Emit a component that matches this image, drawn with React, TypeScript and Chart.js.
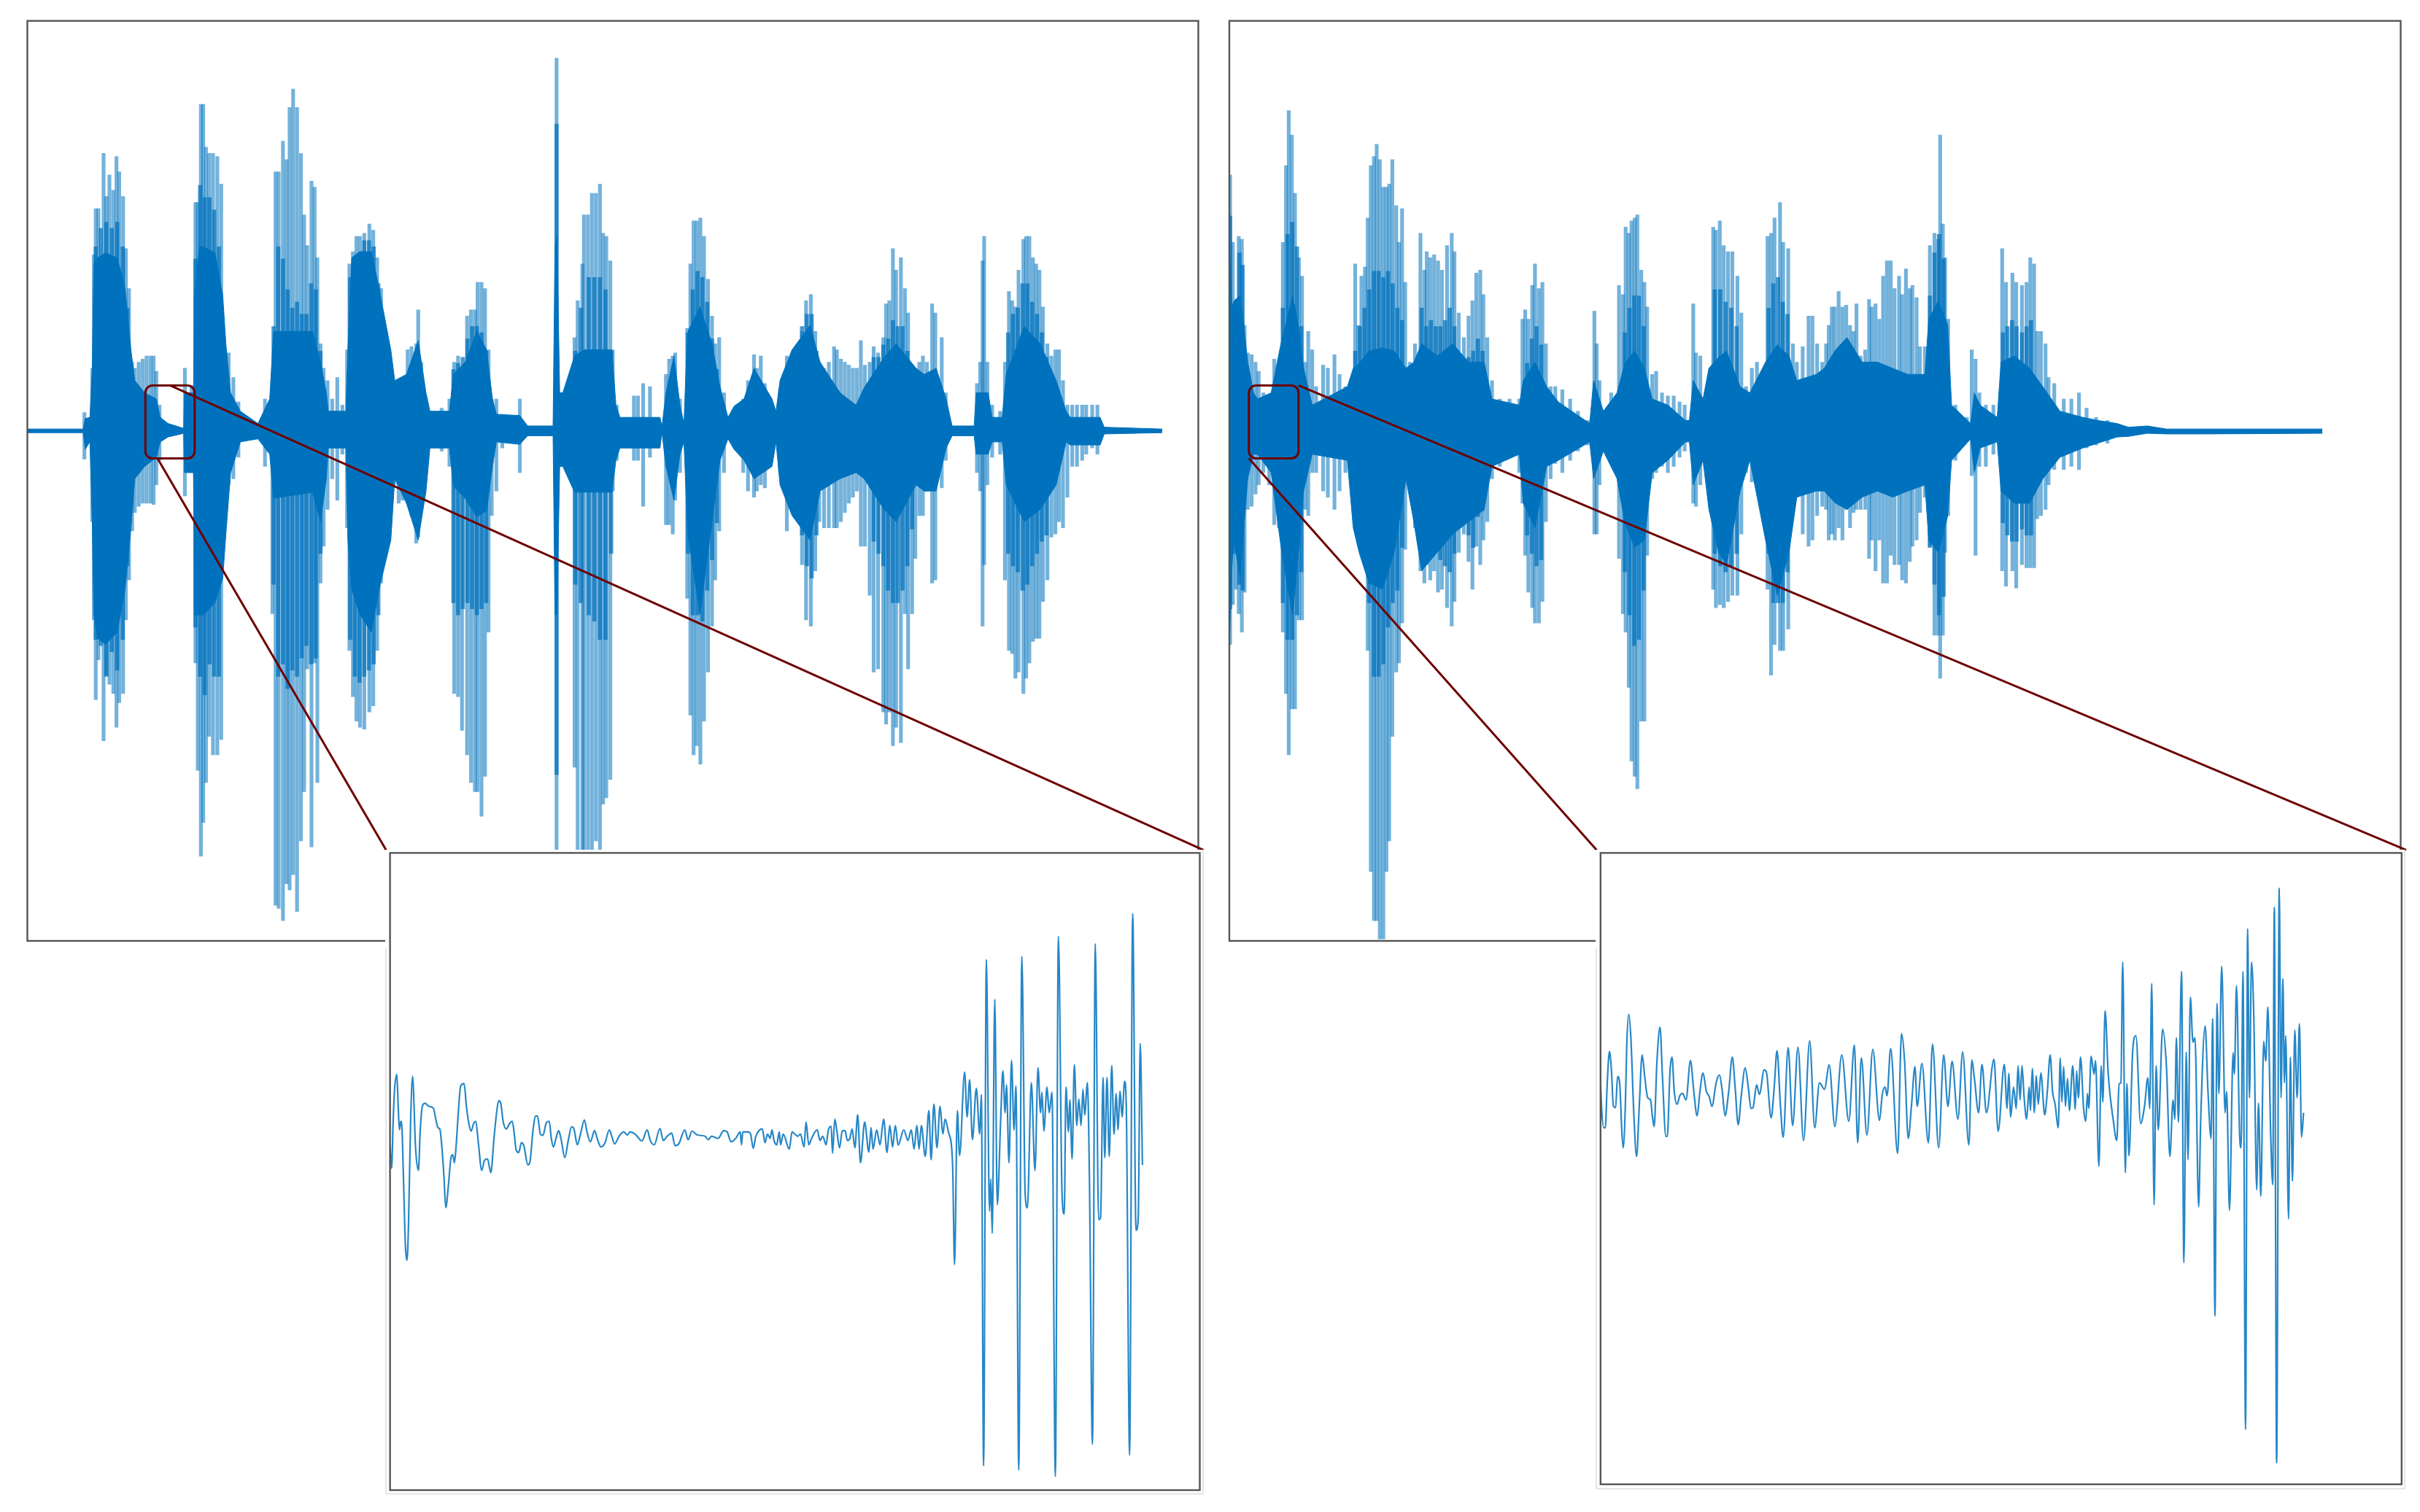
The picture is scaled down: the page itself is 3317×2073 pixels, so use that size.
import React, { useEffect, useRef } from "react";
import { Chart, registerables } from "chart.js";

Chart.register(...registerables);

type Trip = [number, number, number];
type Pair = [number, number];

// ---- readings: [time, upper amplitude, lower amplitude] ----
const leftEnvelopeA: Trip[] = [[70,3,-3],[213,3,-3],[218,20,-30],[230,22,-18],[236,100,-148],[240,272,-298],[250,282,-338],[270,290,-348],[300,282,-328],[320,232,-258],[335,132,-158],[345,82,-78],[370,62,-58],[400,52,-43],[410,22,-18],[430,12,-10],[470,4,-4],[472,62,-68],[495,62,-68],[498,222,-300],[510,300,-300],[520,300,-300],[550,290,-280],[570,220,-240],[578,142,-168],[590,62,-68],[615,32,-18],[660,12,-13],[690,52,-38],[700,162,-110],[800,162,-100],[820,112,-148],[835,62,-78],[840,32,-28],[885,32,-28],[890,132,-178],[900,282,-258],[920,292,-298],[950,292,-328],[970,232,-258],[1000,132,-178],[1010,82,-78],[1040,92,-118],[1070,147,-178],[1090,62,-98],[1100,32,-28],[1150,32,-28],[1160,92,-90],[1190,112,-110],[1220,162,-140],[1245,132,-130],[1260,52,-58],[1270,27,-18],[1330,25,-22],[1350,8,-8],[1415,8,-8],[1420,300,-300],[1425,317,-298],[1432,62,-58],[1440,62,-58],[1470,122,-100]];
const leftEnvelopeB: Trip[] = [[0,132,-100],[40,132,-100],[70,132,-100],[80,42,-48],[90,22,-28],[190,22,-28],[195,7,-3],[205,62,-58],[225,122,-113],[240,42,-38],[250,12,-18],[255,100,-100],[260,162,-168],[290,202,-298],[320,142,-148],[340,72,-48],[360,22,-13],[375,40,-30],[400,52,-48],[425,102,-78],[470,52,-58],[480,32,-18],[490,82,-88],[520,132,-138],[565,172,-178],[590,112,-98],[640,62,-78],[680,42,-68],[700,70,-78],[750,120,-128],[780,142,-148],[830,102,-88],[850,92,-98],[880,102,-98],[905,52,-28],[920,8,-8],[975,8,-8],[980,62,-38],[1010,62,-38],[1020,22,-18],[1045,22,-18],[1055,92,-88],[1100,170,-148],[1140,142,-128],[1180,82,-88],[1205,32,-18],[1215,22,-23],[1290,22,-23],[1300,6,-5],[1445,3,-3]];
const leftBodyA: Trip[] = [[245,300,-340],[258,330,-350],[272,340,-400],[286,330,-360],[300,340,-390],[314,300,-340],[326,200,-220],[500,280,-320],[512,400,-400],[524,380,-430],[536,380,-380],[548,360,-400],[560,300,-400],[570,130,-160],[700,170,-250],[712,300,-400],[724,280,-380],[736,230,-420],[748,200,-390],[760,210,-400],[772,190,-370],[784,190,-350],[796,240,-380],[808,230,-370],[820,130,-200],[896,250,-340],[908,270,-400],[920,290,-410],[932,310,-400],[944,310,-390],[956,300,-380],[968,240,-300],[980,170,-190],[1160,100,-280],[1172,110,-300],[1184,120,-290],[1196,150,-280],[1208,170,-290],[1220,170,-300],[1232,160,-290],[1244,130,-280],[1424,500,-560],[1472,130,-250],[1486,200,-280]];
const leftBodyB: Trip[] = [[12,250,-300],[26,250,-310],[40,250,-340],[54,230,-340],[68,130,-200],[260,160,-200],[272,230,-300],[284,260,-300],[296,250,-310],[308,210,-260],[320,150,-210],[332,100,-150],[545,170,-170],[557,190,-220],[569,190,-240],[581,130,-170],[724,120,-180],[736,120,-200],[748,140,-220],[760,150,-260],[772,180,-280],[784,170,-280],[796,170,-260],[808,130,-220],[820,100,-160],[1060,160,-200],[1072,190,-220],[1084,200,-230],[1096,240,-260],[1108,240,-250],[1120,210,-220],[1132,190,-200],[1144,160,-180],[1156,120,-170]];
const leftPeaksA: Trip[] = [[216,30,-46],[236,102,-148],[240,287,-308],[245,362,-438],[252,362,-373],[265,452,-505],[272,382,-398],[280,417,-413],[290,392,-428],[298,447,-483],[305,422,-443],[315,382,-428],[322,297,-308],[330,232,-243],[338,112,-163],[345,102,-133],[355,112,-123],[365,117,-118],[375,122,-118],[385,122,-118],[393,122,-120],[400,97,-88],[408,42,-48],[473,102,-106],[490,74,-68],[500,372,-378],[506,372,-553],[514,532,-693],[520,532,-638],[527,462,-573],[535,452,-498],[545,452,-528],[556,447,-528],[566,402,-503],[572,147,-168],[585,127,-88],[597,87,-78],[610,47,-43],[678,52,-58],[697,72,-298],[705,422,-773],[713,422,-778],[724,472,-798],[733,442,-738],[741,527,-748],[750,557,-723],[760,527,-783],[770,452,-668],[778,352,-588],[786,302,-388],[797,407,-678],[805,397,-378],[812,282,-573],[820,142,-248],[828,102,-188],[838,82,-128],[850,52,-78],[863,87,-113],[876,42,-38],[888,132,-158],[894,272,-358],[903,292,-433],[912,317,-473],[921,317,-483],[932,322,-486],[945,337,-458],[955,327,-448],[965,282,-358],[975,232,-248],[985,162,-198],[998,112,-128],[1008,82,-88],[1020,82,-118],[1030,72,-113],[1043,132,-118],[1053,137,-138],[1065,142,-183],[1070,197,-173],[1078,112,-108],[1090,52,-38],[1130,37,-33],[1150,52,-58],[1162,112,-428],[1172,122,-433],[1182,92,-488],[1195,187,-528],[1205,197,-573],[1215,197,-588],[1222,242,-588],[1232,242,-628],[1241,232,-563],[1250,132,-328],[1258,52,-138],[1270,52,-98],[1285,27,-28],[1330,52,-68],[1424,607,-748],[1440,62,-58],[1452,52,-68],[1470,152,-548],[1478,212,-698],[1490,272,-698]];
const leftPeaksB: Trip[] = [[0,352,-698],[10,352,-698],[20,387,-698],[30,387,-668],[40,402,-683],[48,322,-608],[56,317,-598],[66,277,-568],[72,132,-98],[82,42,-48],[125,57,-48],[135,57,-48],[148,77,-123],[165,72,-43],[205,92,-153],[213,117,-153],[222,122,-168],[228,127,-113],[240,52,-68],[258,167,-273],[266,272,-463],[274,342,-528],[282,342,-513],[291,347,-543],[300,317,-473],[310,247,-393],[320,187,-318],[328,142,-243],[338,152,-163],[350,62,-68],[398,52,-68],[410,82,-98],[425,124,-108],[432,102,-98],[442,122,-88],[452,77,-93],[465,52,-53],[490,67,-68],[507,122,-163],[520,127,-108],[535,142,-138],[545,162,-218],[555,212,-308],[567,222,-318],[578,162,-228],[588,112,-148],[600,102,-158],[612,112,-158],[625,137,-158],[632,132,-158],[642,117,-148],[652,112,-133],[662,107,-118],[672,102,-108],[682,102,-98],[692,147,-188],[702,107,-188],[714,112,-268],[724,137,-393],[735,127,-388],[748,152,-458],[755,207,-478],[763,212,-458],[772,297,-513],[780,262,-483],[792,282,-508],[802,232,-298],[810,192,-388],[820,92,-298],[828,102,-208],[838,112,-138],[847,122,-138],[857,112,-98],[870,207,-248],[878,192,-243],[894,152,-93],[904,62,-48],[982,77,-68],[990,112,-98],[996,277,-318],[1000,317,-218],[1008,112,-88],[1020,42,-43],[1040,32,-38],[1052,112,-243],[1062,227,-358],[1070,212,-363],[1078,202,-403],[1086,262,-393],[1098,312,-428],[1105,317,-403],[1113,317,-378],[1122,282,-343],[1130,272,-338],[1138,262,-338],[1147,202,-278],[1158,142,-243],[1168,122,-173],[1178,132,-168],[1187,132,-148],[1197,82,-158],[1208,42,-108],[1220,42,-58],[1232,42,-58],[1245,42,-48],[1255,42,-38],[1270,42,-28],[1283,42,-38]];

const rightEnvelopeA: Trip[] = [[24,152,-168],[28,302,-348],[35,202,-218],[40,212,-178],[55,220,-238],[65,172,-158],[75,112,-78],[90,62,-38],[100,52,-38],[135,62,-68],[160,142,-188],[175,180,-248],[190,220,-298],[205,170,-198],[218,102,-98],[240,42,-38],[330,72,-48],[345,102,-158],[360,110,-198],[385,130,-248],[420,135,-258],[450,130,-198],[480,102,-78],[500,112,-148],[520,142,-228],[560,122,-198],[600,142,-168],[640,112,-148],[680,112,-128],[700,52,-58],[770,42,-38],[780,82,-118],[810,112,-158],[840,72,-58],[870,47,-48],[950,12,-18],[960,82,-78],[985,32,-33],[1020,62,-78],[1040,110,-150],[1065,130,-190],[1090,102,-178],[1110,52,-68],[1150,42,-48],[1195,17,-18],[1205,17,-18],[1215,82,-88],[1240,52,-48],[1255,102,-128],[1280,120,-198],[1300,130,-218],[1335,72,-98],[1360,62,-48],[1400,112,-178],[1430,140,-268],[1460,122,-198],[1480,82,-108],[1530,92,-98]];
const rightEnvelopeB: Trip[] = [[0,102,-98],[30,132,-118],[60,152,-128],[100,112,-108],[140,112,-98],[180,102,-108],[220,92,-98],[265,92,-88],[275,182,-178],[300,212,-198],[325,172,-138],[335,42,-48],[385,12,-13],[395,62,-68],[410,42,-28],[455,22,-18],[465,112,-98],[500,122,-118],[540,102,-118],[575,72,-78],[620,32,-43],[680,22,-28],[720,17,-20],[770,12,-10],[800,6,-9],[850,8,-4],[900,3,-5],[1000,3,-5],[1310,3,-4]];
const rightBodyA: Trip[] = [[30,350,-290],[42,170,-200],[54,290,-250],[62,270,-260],[165,200,-280],[177,320,-340],[189,340,-340],[201,300,-300],[212,170,-230],[350,130,-130],[362,170,-170],[374,200,-200],[386,230,-280],[398,260,-400],[410,260,-400],[422,250,-380],[434,260,-320],[446,240,-280],[458,200,-260],[470,180,-190],[520,200,-180],[532,170,-190],[544,180,-200],[556,170,-190],[568,170,-210],[580,180,-220],[592,200,-230],[604,170,-200],[640,120,-170],[652,130,-190],[664,150,-140],[676,130,-130],[790,110,-170],[802,150,-200],[814,170,-220],[826,140,-210],[1040,160,-230],[1052,200,-300],[1064,220,-350],[1076,220,-340],[1088,170,-260],[1270,230,-200],[1284,230,-220],[1298,210,-230],[1312,200,-220],[1326,170,-200],[1408,200,-200],[1420,240,-280],[1432,250,-280],[1444,210,-280],[1456,190,-230]];
const rightBodyB: Trip[] = [[278,220,-190],[290,290,-250],[302,320,-300],[314,280,-270],[470,160,-150],[482,170,-170],[494,180,-180],[506,170,-180],[520,160,-160],[532,170,-170],[544,180,-170]];
const rightPeaksA: Trip[] = [[30,417,-348],[37,307,-283],[45,212,-258],[52,317,-298],[60,312,-328],[67,172,-263],[75,127,-128],[85,124,-123],[95,112,-103],[103,97,-88],[115,62,-68],[130,52,-88],[143,117,-153],[155,112,-158],[165,307,-328],[173,432,-428],[180,522,-528],[188,482,-453],[196,387,-453],[206,282,-308],[214,252,-308],[222,112,-128],[230,162,-138],[240,132,-68],[250,72,-68],[268,107,-98],[280,102,-108],[297,124,-128],[310,92,-98],[325,72,-68],[340,77,-78],[350,272,-158],[358,172,-168],[366,252,-178],[375,267,-198],[382,347,-358],[390,432,-718],[398,447,-798],[405,467,-798],[413,442,-828],[422,397,-828],[430,397,-718],[437,402,-668],[445,442,-498],[455,367,-393],[462,307,-378],[470,362,-313],[478,242,-193],[490,112,-68],[503,142,-158],[517,322,-228],[527,262,-248],[533,292,-218],[542,282,-243],[552,287,-228],[562,277,-263],[572,262,-258],[585,302,-288],[597,322,-318],[604,292,-278],[615,192,-198],[628,152,-168],[640,187,-213],[650,212,-258],[660,257,-188],[670,262,-218],[678,222,-178],[688,152,-148],[700,82,-78],[720,52,-58],[745,52,-43],[770,52,-68],[778,182,-118],[785,197,-203],[793,182,-263],[803,237,-288],[810,272,-313],[820,232,-313],[829,242,-278],[838,142,-148],[850,72,-78],[862,72,-53],[880,67,-68],[900,52,-48],[920,32,-33],[945,17,-23],[962,195,-168],[968,142,-168],[975,82,-88],[990,32,-33],[1005,62,-48],[1025,237,-208],[1035,222,-298],[1042,332,-328],[1050,322,-418],[1057,342,-538],[1065,347,-563],[1072,352,-583],[1082,262,-473],[1090,242,-473],[1097,202,-203],[1110,92,-78],[1120,97,-68],[1135,62,-58],[1150,57,-68],[1165,57,-58],[1180,47,-43],[1193,42,-33],[1215,207,-118],[1222,127,-123],[1233,122,-88],[1245,52,-58],[1266,332,-258],[1273,327,-288],[1283,342,-283],[1293,302,-288],[1304,292,-278],[1315,292,-268],[1328,252,-268],[1338,192,-168],[1350,72,-68],[1365,102,-83],[1378,112,-93],[1390,82,-98],[1405,317,-258],[1414,322,-398],[1423,347,-348],[1437,372,-358],[1445,307,-358],[1458,297,-323],[1470,142,-118],[1480,112,-108],[1495,137,-168],[1510,187,-188],[1520,187,-178],[1532,142,-138],[1545,112,-123]];
const rightPeaksB: Trip[] = [[5,142,-128],[12,172,-178],[20,202,-168],[28,202,-178],[38,227,-158],[48,202,-178],[58,205,-128],[68,172,-158],[77,162,-133],[85,207,-128],[96,122,-128],[108,132,-128],[118,214,-208],[125,202,-178],[135,207,-228],[145,182,-178],[155,252,-248],[165,277,-248],[175,277,-203],[185,232,-218],[197,252,-218],[205,222,-243],[215,264,-248],[225,232,-213],[232,237,-188],[243,217,-178],[252,137,-133],[265,137,-108],[278,302,-188],[290,322,-333],[300,312,-333],[305,482,-403],[312,337,-333],[318,282,-198],[326,182,-138],[345,42,-48],[375,22,-18],[388,132,-73],[398,117,-203],[408,62,-58],[425,42,-58],[445,42,-38],[468,297,-228],[478,242,-253],[495,257,-228],[505,242,-256],[520,237,-218],[532,242,-223],[542,282,-223],[552,272,-223],[560,162,-143],[570,162,-138],[582,142,-128],[590,87,-88],[605,77,-63],[630,52,-63],[650,52,-58],[670,62,-63],[690,37,-28],[715,22,-23],[745,17,-20]];

// ---- readings of the two magnified excerpts: [time, amplitude] ----
const leftInsetA: Pair[] = [[41,-15],[47,-70],[53,40],[58,110],[67,150],[72,80],[77,20],[82,40],[87,20],[92,-80],[100,-250],[106,-285],[112,-200],[120,40],[128,145],[133,80],[138,-10],[150,-75],[157,20],[165,75],[175,82],[190,75],[208,70],[215,50],[225,25],[232,22],[240,-20],[248,-90],[255,-162],[265,-110],[275,-45],[282,-38],[288,-57],[295,-15],[303,60],[312,122],[325,128],[335,70],[345,30],[352,17],[362,35],[370,40],[380,-10],[393,-75],[403,-52],[415,-48],[428,-80],[440,0],[450,60],[458,88],[466,82],[475,40],[487,22],[500,35],[510,40],[518,10],[525,-27],[535,-33],[545,-10],[555,-18],[570,-62],[578,-55],[590,20],[600,52],[607,52],[618,10],[628,7],[640,35],[652,40],[660,0],[668,-20],[678,0],[688,18],[697,0],[712,-45],[725,-5],[738,27],[747,22],[760,-15],[772,10],[787,43],[797,15],[810,-8],[826,18],[836,0],[850,-20],[865,-12],[883,20],[892,5],[903,-13],[920,5],[938,15],[952,8],[962,15],[982,10],[1008,-6],[1028,20],[1040,-5],[1055,-15],[1077,23],[1090,-5],[1105,5],[1122,12],[1135,-17],[1150,-12],[1172,20],[1185,-3],[1200,17],[1220,8],[1250,5],[1263,-3],[1275,5],[1300,0],[1322,18],[1335,15],[1350,-8],[1368,0],[1385,15],[1390,-15],[1395,15],[1415,15],[1425,10],[1435,-23],[1445,5],[1460,20],[1470,22],[1480,-10],[1490,10],[1500,0],[1507,20],[1515,-5],[1525,-15],[1535,15],[1540,-15],[1550,10]];
const leftInsetB: Pair[] = [[5,-25],[15,15],[25,10],[35,5],[45,10],[58,-20],[65,38],[75,-15],[85,0],[105,20],[115,-5],[125,5],[137,-15],[145,20],[155,28],[160,-35],[168,45],[175,20],[185,-22],[195,18],[205,18],[213,-5],[222,0],[230,22],[240,-22],[250,55],[260,-57],[275,38],[290,-32],[298,25],[305,-25],[318,20],[330,-15],[343,45],[355,-33],[365,30],[375,-20],[385,30],[395,-16],[415,20],[430,-5],[442,20],[452,-25],[462,30],[470,-25],[478,30],[492,-42],[505,65],[513,-50],[523,80],[534,-22],[545,75],[555,10],[563,45],[575,15],[590,-60],[597,-295],[607,65],[615,-40],[633,155],[642,50],[651,137],[661,-3],[675,117],[687,10],[693,102],[701,-765],[711,418],[722,-170],[727,-95],[732,-222],[741,325],[750,-155],[762,40],[770,158],[778,60],[783,125],[792,-57],[801,182],[810,20],[817,122],[827,-775],[838,425],[850,-130],[858,-162],[872,130],[885,-75],[896,165],[905,60],[910,108],[917,17],[928,120],[936,60],[946,108],[958,-790],[969,472],[982,-130],[990,-177],[996,120],[1005,15],[1010,90],[1018,-48],[1026,172],[1035,30],[1042,92],[1050,30],[1057,115],[1063,55],[1073,130],[1080,-90],[1091,-715],[1101,455],[1113,-190],[1120,-185],[1129,142],[1135,-45],[1143,142],[1151,-42],[1160,170],[1168,10],[1176,105],[1182,20],[1190,110],[1197,50],[1206,133],[1212,80],[1224,-740],[1235,525],[1247,-215],[1255,-185],[1262,222],[1270,-62]];
const rightInsetA: Pair[] = [[36,30],[40,-30],[47,-75],[53,-75],[60,30],[68,103],[75,60],[82,-25],[90,-28],[97,45],[105,25],[112,-80],[117,-122],[125,-20],[130,120],[137,190],[145,130],[155,-40],[165,-142],[175,-20],[185,95],[195,40],[205,-5],[215,-10],[222,-50],[228,-72],[238,80],[249,160],[258,40],[270,-95],[275,-95],[285,60],[292,90],[300,10],[310,-20],[320,0],[330,5],[342,-10],[358,82],[370,10],[382,-47],[392,10],[403,53],[415,10],[425,-2],[435,-25],[450,30],[462,48],[472,10],[482,-47],[495,10],[508,90],[518,20],[529,-68],[540,0],[554,65],[565,20],[575,-30],[582,-28],[595,25],[605,3],[622,60],[630,55],[647,-52],[658,20],[668,105],[680,-20],[690,-97],[708,112],[724,-70],[743,113],[763,-105],[785,128],[803,-75],[820,30],[838,15],[855,72],[875,-72],[900,95],[925,-60],[945,118],[957,-110],[970,88],[990,-92],[1011,108],[1035,-58],[1045,3],[1055,20],[1062,0],[1075,110],[1100,-135],[1114,145],[1125,80],[1138,-100],[1150,-20],[1162,68],[1170,-25],[1187,75],[1210,-110],[1225,120],[1247,-122],[1265,95],[1280,-25],[1295,80],[1316,-55],[1333,102],[1355,-115],[1366,83],[1375,40],[1390,-40],[1402,73],[1418,-40],[1445,85],[1460,-83],[1482,73],[1492,-30],[1498,52],[1505,-50],[1515,20]];
const rightInsetB: Pair[] = [[10,-30],[17,70],[25,-10],[32,70],[40,0],[50,-55],[60,20],[65,-35],[72,63],[80,-40],[87,47],[95,-20],[105,53],[120,-45],[130,10],[141,95],[150,10],[160,-20],[172,-75],[180,88],[186,-15],[193,68],[200,-25],[208,40],[215,-35],[228,70],[238,-32],[243,58],[250,-5],[258,90],[270,-30],[278,-60],[285,5],[290,-30],[299,92],[310,50],[316,82],[329,-165],[338,70],[344,-15],[353,198],[365,50],[385,-60],[398,-105],[407,28],[414,30],[421,312],[431,-180],[437,28],[445,-140],[460,110],[472,140],[490,-65],[505,-25],[518,42],[525,-30],[533,262],[542,-255],[550,70],[558,-80],[575,155],[590,65],[603,-142],[615,-10],[622,-55],[628,135],[636,-62],[648,290],[657,-390],[666,102],[673,-150],[682,230],[692,125],[700,135],[714,-260],[722,-55],[739,163],[750,10],[762,-100],[768,180],[777,-515],[785,215],[792,5],[803,302],[816,-40],[822,10],[833,-268],[847,100],[852,50],[860,257],[872,-90],[878,-122],[885,290],[895,-780],[903,390],[910,-5],[918,312],[927,180],[938,-220],[945,-18],[954,-235],[965,127],[973,80],[981,207],[992,-90],[1000,-208],[1006,440],[1015,-858],[1025,485],[1032,-5],[1039,273],[1045,30],[1050,140],[1061,-288],[1068,90],[1076,-200],[1085,153],[1094,-5],[1103,168],[1111,-97],[1119,-40]];

// second part of each recording sits on a shifted time base
const shiftTrip = (rows: Trip[], base: number, k: number): Trip[] => rows.map(([t, a, b]) => [base + k * t, a, b]);
const shiftPair = (rows: Pair[], base: number, k: number): Pair[] => rows.map(([t, a]) => [base + k * t, a]);

const BLUE = "#0072BD";
const DARK_RED = "#6e0000";
const FRAME = "#555555";

type Box = { x: number; y: number; w: number; h: number };

const roundFrame = (chart: any) => {
  const { ctx, chartArea: a } = chart;
  ctx.save();
  ctx.strokeStyle = FRAME;
  ctx.lineWidth = 2.4;
  ctx.strokeRect(a.left, a.top, a.right - a.left, a.bottom - a.top);
  ctx.restore();
};

function mainChart(
  canvas: HTMLCanvasElement,
  pad: any,
  xRange: [number, number],
  envelope: Trip[],
  body: Trip[],
  peaks: Trip[],
  zoom: { t0: number; t1: number; hi: number; lo: number; upperFrom: number; lowerFrom: number; upperTo: number; lowerTo: number; toAmp: number }
) {
  return new Chart(canvas, {
    type: "bar",
    data: {
      datasets: [
        {
          type: "line", data: envelope.map(([x, y]) => ({ x, y })), borderColor: BLUE, borderWidth: 1, pointRadius: 0, fill: "+1", backgroundColor: BLUE, order: 1,
        } as any,
        {
          type: "line", data: envelope.map(([x, , y]) => ({ x, y })), borderColor: BLUE, borderWidth: 1, pointRadius: 0, fill: false, order: 1,
        } as any,
        {
          type: "bar", data: body.map(([x, a, b]) => ({ x, y: [b, a] })), backgroundColor: "rgba(0,114,189,0.72)", barThickness: 5, grouped: false, order: 2,
        } as any,
        {
          type: "bar", data: peaks.map(([x, a, b]) => ({ x, y: [b, a] })), backgroundColor: "rgba(0,114,189,0.55)", barThickness: 4.5, grouped: false, order: 3,
        } as any,
      ],
    },
    options: {
      animation: false, responsive: false, devicePixelRatio: 1,
      layout: { padding: pad },
      plugins: { legend: { display: false }, tooltip: { enabled: false } },
      scales: {
        x: { type: "linear", display: false, min: xRange[0], max: xRange[1], offset: false },
        y: { type: "linear", display: false, min: -831, max: 668 },
      },
    },
    plugins: [
      {
        id: "frameAndZoom",
        afterDraw(chart: any) {
          roundFrame(chart);
          const { ctx, scales } = chart;
          const px = (t: number) => scales.x.getPixelForValue(t);
          const py = (v: number) => scales.y.getPixelForValue(v);
          ctx.save();
          ctx.strokeStyle = DARK_RED;
          ctx.lineWidth = 3;
          ctx.beginPath();
          ctx.roundRect(px(zoom.t0), py(zoom.hi), px(zoom.t1) - px(zoom.t0), py(zoom.lo) - py(zoom.hi), 10);
          ctx.stroke();
          ctx.beginPath();
          ctx.moveTo(px(zoom.upperFrom), py(zoom.hi));
          ctx.lineTo(px(zoom.upperTo), py(zoom.toAmp));
          ctx.moveTo(px(zoom.lowerFrom), py(zoom.lo));
          ctx.lineTo(px(zoom.lowerTo), py(zoom.toAmp));
          ctx.stroke();
          ctx.restore();
        },
      },
    ],
  } as any);
}

function insetChart(canvas: HTMLCanvasElement, pad: any, xRange: [number, number], yRange: [number, number], rows: Pair[]) {
  return new Chart(canvas, {
    type: "line",
    data: {
      datasets: [
        {
          data: rows.map(([x, y]) => ({ x, y })), borderColor: "rgba(0,114,189,0.85)", borderWidth: 2.2, pointRadius: 0, cubicInterpolationMode: "monotone",
        } as any,
      ],
    },
    options: {
      animation: false, responsive: false, devicePixelRatio: 1,
      layout: { padding: pad },
      plugins: { legend: { display: false }, tooltip: { enabled: false } },
      scales: {
        x: { type: "linear", display: false, min: xRange[0], max: xRange[1] },
        y: { type: "linear", display: false, min: yRange[0], max: yRange[1] },
      },
    },
    plugins: [
      {
        id: "backing",
        beforeDraw(chart: any) {
          const { ctx, width, height } = chart;
          ctx.save();
          ctx.fillStyle = "#ffffff";
          ctx.fillRect(0, 0, width, height);
          ctx.strokeStyle = "#e6e6e6";
          ctx.lineWidth = 2;
          ctx.beginPath();
          ctx.moveTo(1, 135);
          ctx.lineTo(1, height - 1);
          ctx.lineTo(width - 1, height - 1);
          ctx.lineTo(width - 1, 0);
          ctx.stroke();
          ctx.restore();
        },
        afterDraw: roundFrame,
      },
    ],
  } as any);
}

const BOXES: Record<string, Box> = {
  mainL: { x: 28, y: 18, w: 1630, h: 1285 },
  mainR: { x: 1676, y: 18, w: 1630, h: 1285 },
  insetL: { x: 528, y: 1165, w: 1122, h: 884 },
  insetR: { x: 2187, y: 1165, w: 1110, h: 877 },
};

export default function App() {
  const mainL = useRef<HTMLCanvasElement>(null);
  const mainR = useRef<HTMLCanvasElement>(null);
  const insetL = useRef<HTMLCanvasElement>(null);
  const insetR = useRef<HTMLCanvasElement>(null);

  useEffect(() => {
    const charts = [
      mainChart(
        mainL.current!,
        { left: 9.5, right: 15.5, top: 10.6, bottom: 13 },
        [70, 3066],
        [...leftEnvelopeA, ...shiftTrip(leftEnvelopeB, 1494, 1.024)],
        [...leftBodyA, ...shiftTrip(leftBodyB, 1494, 1.024)],
        [...leftPeaksA, ...shiftTrip(leftPeaksB, 1494, 1.024)],
        { t0: 372, t1: 498, hi: 74, lo: -45, upperFrom: 435, lowerFrom: 403, upperTo: 3079, lowerTo: 988, toAmp: -683 }
      ),
      mainChart(
        mainR.current!,
        { left: 9, right: 15.5, top: 10.6, bottom: 13 },
        [28, 3025],
        [...rightEnvelopeA, ...shiftTrip(rightEnvelopeB, 1550, 0.973)],
        [...rightBodyA, ...shiftTrip(rightBodyB, 1550, 0.973)],
        [...rightPeaksA, ...shiftTrip(rightPeaksB, 1550, 0.973)],
        { t0: 78, t1: 205, hi: 74, lo: -45, upperFrom: 205, lowerFrom: 78, upperTo: 3039, lowerTo: 968, toAmp: -683 }
      ),
      insetChart(
        insetL.current!,
        { left: 6.6, right: 5.5, top: 4.4, bottom: 6 },
        [41, 3149],
        [-822, 667],
        [...leftInsetA, ...shiftPair(leftInsetB, 1568, 1.0716)]
      ),
      insetChart(
        insetR.current!,
        { left: 6.8, right: 5.2, top: 4.4, bottom: 7 },
        [36, 2905],
        [-908, 567],
        [...rightInsetA, ...shiftPair(rightInsetB, 1515.5, 0.928)]
      ),
    ];
    return () => charts.forEach((c) => c.destroy());
  }, []);

  const place = (b: Box): React.CSSProperties => ({ position: "absolute", left: b.x, top: b.y, width: b.w, height: b.h, display: "block" });

  return (
    <div style={{ position: "absolute", left: 0, top: 0, width: 3317, height: 2073, background: "#fff", overflow: "hidden" }}>
      <canvas ref={mainL} width={BOXES.mainL.w} height={BOXES.mainL.h} style={place(BOXES.mainL)} />
      <canvas ref={mainR} width={BOXES.mainR.w} height={BOXES.mainR.h} style={place(BOXES.mainR)} />
      <canvas ref={insetL} width={BOXES.insetL.w} height={BOXES.insetL.h} style={place(BOXES.insetL)} />
      <canvas ref={insetR} width={BOXES.insetR.w} height={BOXES.insetR.h} style={place(BOXES.insetR)} />
    </div>
  );
}
